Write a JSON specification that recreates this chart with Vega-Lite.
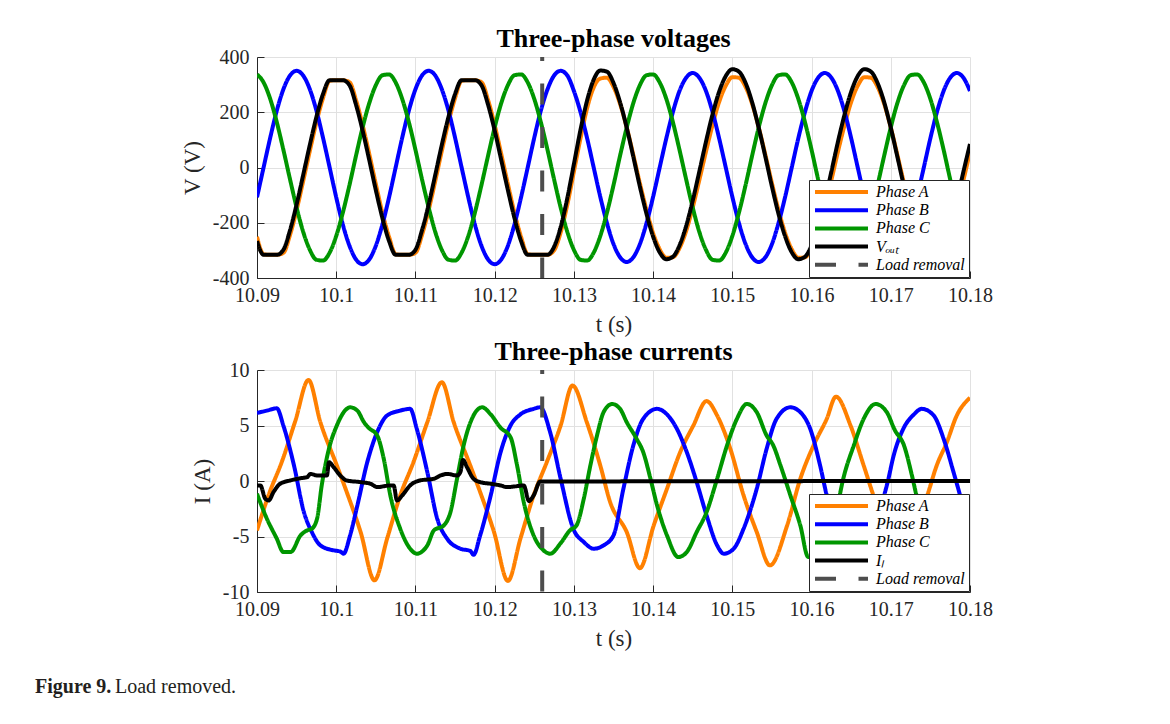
{
"$schema":"https://vega.github.io/schema/vega-lite/v6.json",
"background":"#ffffff",
"padding":{"left":35,"top":26,"right":10,"bottom":10},
"title":{"text":"Figure 9.","subtitle":"\u200b\u00a0\u00a0\u00a0\u00a0\u00a0\u00a0\u00a0\u00a0\u00a0\u00a0\u00a0\u00a0\u00a0\u00a0\u00a0\u00a0Load removed.","orient":"bottom","anchor":"start","frame":"group","dx":-222,"offset":26,"font":"Liberation Serif","fontSize":20,"fontWeight":"bold","color":"#231f20","subtitleFont":"Liberation Serif","subtitleFontSize":20,"subtitleFontWeight":"normal","subtitleColor":"#231f20","subtitlePadding":-20},
"datasets":{
"volt":[
{"t":10.09,"Phase A":-251,"Phase B":-108,"Phase C":337,"Vₒᵤₜ":-266},
{"t":10.09083,"Phase A":-314,"Phase B":0,"Phase C":308,"Vₒᵤₜ":-316},
{"t":10.09167,"Phase A":-316,"Phase B":108,"Phase C":248,"Vₒᵤₜ":-316},
{"t":10.0925,"Phase A":-316,"Phase B":206,"Phase C":164,"Vₒᵤₜ":-316},
{"t":10.09333,"Phase A":-309,"Phase B":283,"Phase C":64,"Vₒᵤₜ":-298},
{"t":10.09417,"Phase A":-244,"Phase B":333,"Phase C":-43,"Vₒᵤₜ":-227},
{"t":10.095,"Phase A":-154,"Phase B":350,"Phase C":-145,"Vₒᵤₜ":-134},
{"t":10.09583,"Phase A":-49,"Phase B":333,"Phase C":-233,"Vₒᵤₜ":-27},
{"t":10.09667,"Phase A":60,"Phase B":283,"Phase C":-298,"Vₒᵤₜ":82},
{"t":10.0975,"Phase A":164,"Phase B":206,"Phase C":-334,"Vₒᵤₜ":183},
{"t":10.09833,"Phase A":251,"Phase B":108,"Phase C":-337,"Vₒᵤₜ":266},
{"t":10.09917,"Phase A":314,"Phase B":0,"Phase C":-308,"Vₒᵤₜ":316},
{"t":10.1,"Phase A":316,"Phase B":-108,"Phase C":-248,"Vₒᵤₜ":316},
{"t":10.10083,"Phase A":316,"Phase B":-206,"Phase C":-164,"Vₒᵤₜ":316},
{"t":10.10167,"Phase A":309,"Phase B":-283,"Phase C":-64,"Vₒᵤₜ":298},
{"t":10.1025,"Phase A":244,"Phase B":-333,"Phase C":43,"Vₒᵤₜ":227},
{"t":10.10333,"Phase A":154,"Phase B":-350,"Phase C":145,"Vₒᵤₜ":134},
{"t":10.10417,"Phase A":49,"Phase B":-333,"Phase C":233,"Vₒᵤₜ":27},
{"t":10.105,"Phase A":-60,"Phase B":-283,"Phase C":298,"Vₒᵤₜ":-82},
{"t":10.10583,"Phase A":-164,"Phase B":-206,"Phase C":334,"Vₒᵤₜ":-183},
{"t":10.10667,"Phase A":-251,"Phase B":-108,"Phase C":337,"Vₒᵤₜ":-266},
{"t":10.1075,"Phase A":-314,"Phase B":0,"Phase C":308,"Vₒᵤₜ":-316},
{"t":10.10833,"Phase A":-316,"Phase B":108,"Phase C":248,"Vₒᵤₜ":-316},
{"t":10.10917,"Phase A":-316,"Phase B":206,"Phase C":164,"Vₒᵤₜ":-316},
{"t":10.11,"Phase A":-309,"Phase B":283,"Phase C":64,"Vₒᵤₜ":-298},
{"t":10.11083,"Phase A":-244,"Phase B":333,"Phase C":-43,"Vₒᵤₜ":-227},
{"t":10.11167,"Phase A":-154,"Phase B":350,"Phase C":-145,"Vₒᵤₜ":-134},
{"t":10.1125,"Phase A":-49,"Phase B":333,"Phase C":-233,"Vₒᵤₜ":-27},
{"t":10.11333,"Phase A":60,"Phase B":283,"Phase C":-298,"Vₒᵤₜ":82},
{"t":10.11417,"Phase A":164,"Phase B":206,"Phase C":-334,"Vₒᵤₜ":183},
{"t":10.115,"Phase A":251,"Phase B":108,"Phase C":-337,"Vₒᵤₜ":266},
{"t":10.11583,"Phase A":314,"Phase B":0,"Phase C":-308,"Vₒᵤₜ":316},
{"t":10.11667,"Phase A":316,"Phase B":-108,"Phase C":-248,"Vₒᵤₜ":316},
{"t":10.1175,"Phase A":316,"Phase B":-206,"Phase C":-164,"Vₒᵤₜ":316},
{"t":10.11833,"Phase A":309,"Phase B":-283,"Phase C":-64,"Vₒᵤₜ":298},
{"t":10.11917,"Phase A":244,"Phase B":-333,"Phase C":43,"Vₒᵤₜ":227},
{"t":10.12,"Phase A":154,"Phase B":-350,"Phase C":145,"Vₒᵤₜ":134},
{"t":10.12083,"Phase A":49,"Phase B":-333,"Phase C":233,"Vₒᵤₜ":27},
{"t":10.12167,"Phase A":-60,"Phase B":-283,"Phase C":298,"Vₒᵤₜ":-82},
{"t":10.1225,"Phase A":-164,"Phase B":-206,"Phase C":334,"Vₒᵤₜ":-183},
{"t":10.12333,"Phase A":-251,"Phase B":-108,"Phase C":337,"Vₒᵤₜ":-266},
{"t":10.12417,"Phase A":-314,"Phase B":0,"Phase C":308,"Vₒᵤₜ":-316},
{"t":10.125,"Phase A":-316,"Phase B":108,"Phase C":248,"Vₒᵤₜ":-316},
{"t":10.12583,"Phase A":-316,"Phase B":206,"Phase C":164,"Vₒᵤₜ":-316},
{"t":10.12667,"Phase A":-316,"Phase B":283,"Phase C":64,"Vₒᵤₜ":-316},
{"t":10.1275,"Phase A":-300,"Phase B":333,"Phase C":-43,"Vₒᵤₜ":-287},
{"t":10.12833,"Phase A":-235,"Phase B":350,"Phase C":-145,"Vₒᵤₜ":-216},
{"t":10.12917,"Phase A":-135,"Phase B":333,"Phase C":-233,"Vₒᵤₜ":-111},
{"t":10.13,"Phase A":-15,"Phase B":277,"Phase C":-298,"Vₒᵤₜ":12},
{"t":10.13083,"Phase A":105,"Phase B":201,"Phase C":-334,"Vₒᵤₜ":136},
{"t":10.13167,"Phase A":215,"Phase B":106,"Phase C":-337,"Vₒᵤₜ":243},
{"t":10.1325,"Phase A":290,"Phase B":0,"Phase C":-308,"Vₒᵤₜ":318},
{"t":10.13333,"Phase A":322,"Phase B":-106,"Phase C":-248,"Vₒᵤₜ":351},
{"t":10.13417,"Phase A":325,"Phase B":-201,"Phase C":-164,"Vₒᵤₜ":347},
{"t":10.135,"Phase A":292,"Phase B":-277,"Phase C":-64,"Vₒᵤₜ":306},
{"t":10.13583,"Phase A":230,"Phase B":-325,"Phase C":43,"Vₒᵤₜ":236},
{"t":10.13667,"Phase A":145,"Phase B":-342,"Phase C":145,"Vₒᵤₜ":144},
{"t":10.1375,"Phase A":46,"Phase B":-325,"Phase C":233,"Vₒᵤₜ":39},
{"t":10.13833,"Phase A":-57,"Phase B":-277,"Phase C":298,"Vₒᵤₜ":-69},
{"t":10.13917,"Phase A":-154,"Phase B":-201,"Phase C":334,"Vₒᵤₜ":-168},
{"t":10.14,"Phase A":-237,"Phase B":-106,"Phase C":337,"Vₒᵤₜ":-250},
{"t":10.14083,"Phase A":-296,"Phase B":0,"Phase C":308,"Vₒᵤₜ":-307},
{"t":10.14167,"Phase A":-327,"Phase B":106,"Phase C":248,"Vₒᵤₜ":-332},
{"t":10.1425,"Phase A":-325,"Phase B":201,"Phase C":164,"Vₒᵤₜ":-323},
{"t":10.14333,"Phase A":-292,"Phase B":277,"Phase C":64,"Vₒᵤₜ":-282},
{"t":10.14417,"Phase A":-230,"Phase B":325,"Phase C":-43,"Vₒᵤₜ":-212},
{"t":10.145,"Phase A":-145,"Phase B":342,"Phase C":-145,"Vₒᵤₜ":-120},
{"t":10.14583,"Phase A":-46,"Phase B":325,"Phase C":-233,"Vₒᵤₜ":-15},
{"t":10.14667,"Phase A":57,"Phase B":277,"Phase C":-298,"Vₒᵤₜ":93},
{"t":10.1475,"Phase A":154,"Phase B":201,"Phase C":-334,"Vₒᵤₜ":192},
{"t":10.14833,"Phase A":237,"Phase B":106,"Phase C":-337,"Vₒᵤₜ":274},
{"t":10.14917,"Phase A":296,"Phase B":0,"Phase C":-308,"Vₒᵤₜ":331},
{"t":10.15,"Phase A":327,"Phase B":-106,"Phase C":-248,"Vₒᵤₜ":356},
{"t":10.15083,"Phase A":325,"Phase B":-201,"Phase C":-164,"Vₒᵤₜ":347},
{"t":10.15167,"Phase A":292,"Phase B":-277,"Phase C":-64,"Vₒᵤₜ":306},
{"t":10.1525,"Phase A":230,"Phase B":-325,"Phase C":43,"Vₒᵤₜ":236},
{"t":10.15333,"Phase A":145,"Phase B":-342,"Phase C":145,"Vₒᵤₜ":144},
{"t":10.15417,"Phase A":46,"Phase B":-325,"Phase C":233,"Vₒᵤₜ":39},
{"t":10.155,"Phase A":-57,"Phase B":-277,"Phase C":298,"Vₒᵤₜ":-69},
{"t":10.15583,"Phase A":-154,"Phase B":-201,"Phase C":334,"Vₒᵤₜ":-168},
{"t":10.15667,"Phase A":-237,"Phase B":-106,"Phase C":337,"Vₒᵤₜ":-250},
{"t":10.1575,"Phase A":-296,"Phase B":0,"Phase C":308,"Vₒᵤₜ":-307},
{"t":10.15833,"Phase A":-327,"Phase B":106,"Phase C":248,"Vₒᵤₜ":-332},
{"t":10.15917,"Phase A":-325,"Phase B":201,"Phase C":164,"Vₒᵤₜ":-323},
{"t":10.16,"Phase A":-292,"Phase B":277,"Phase C":64,"Vₒᵤₜ":-282},
{"t":10.16083,"Phase A":-230,"Phase B":325,"Phase C":-43,"Vₒᵤₜ":-212},
{"t":10.16167,"Phase A":-145,"Phase B":342,"Phase C":-145,"Vₒᵤₜ":-120},
{"t":10.1625,"Phase A":-46,"Phase B":325,"Phase C":-233,"Vₒᵤₜ":-15},
{"t":10.16333,"Phase A":57,"Phase B":277,"Phase C":-298,"Vₒᵤₜ":93},
{"t":10.16417,"Phase A":154,"Phase B":201,"Phase C":-334,"Vₒᵤₜ":192},
{"t":10.165,"Phase A":237,"Phase B":106,"Phase C":-337,"Vₒᵤₜ":274},
{"t":10.16583,"Phase A":296,"Phase B":0,"Phase C":-308,"Vₒᵤₜ":331},
{"t":10.16667,"Phase A":327,"Phase B":-106,"Phase C":-248,"Vₒᵤₜ":356},
{"t":10.1675,"Phase A":325,"Phase B":-201,"Phase C":-164,"Vₒᵤₜ":347},
{"t":10.16833,"Phase A":292,"Phase B":-277,"Phase C":-64,"Vₒᵤₜ":306},
{"t":10.16917,"Phase A":230,"Phase B":-325,"Phase C":43,"Vₒᵤₜ":236},
{"t":10.17,"Phase A":145,"Phase B":-342,"Phase C":145,"Vₒᵤₜ":144},
{"t":10.17083,"Phase A":46,"Phase B":-325,"Phase C":233,"Vₒᵤₜ":39},
{"t":10.17167,"Phase A":-57,"Phase B":-277,"Phase C":298,"Vₒᵤₜ":-69},
{"t":10.1725,"Phase A":-154,"Phase B":-201,"Phase C":334,"Vₒᵤₜ":-168},
{"t":10.17333,"Phase A":-237,"Phase B":-106,"Phase C":337,"Vₒᵤₜ":-250},
{"t":10.17417,"Phase A":-296,"Phase B":0,"Phase C":308,"Vₒᵤₜ":-307},
{"t":10.175,"Phase A":-327,"Phase B":106,"Phase C":248,"Vₒᵤₜ":-332},
{"t":10.17583,"Phase A":-325,"Phase B":201,"Phase C":164,"Vₒᵤₜ":-323},
{"t":10.17667,"Phase A":-292,"Phase B":277,"Phase C":64,"Vₒᵤₜ":-282},
{"t":10.1775,"Phase A":-230,"Phase B":325,"Phase C":-43,"Vₒᵤₜ":-212},
{"t":10.17833,"Phase A":-145,"Phase B":342,"Phase C":-145,"Vₒᵤₜ":-120},
{"t":10.17917,"Phase A":-46,"Phase B":325,"Phase C":-233,"Vₒᵤₜ":-15},
{"t":10.18,"Phase A":57,"Phase B":277,"Phase C":-298,"Vₒᵤₜ":85}
],
"curr":[
{"t":10.09,"series":"Phase A","v":-4.45},
{"t":10.0915,"series":"Phase A","v":-1.2},
{"t":10.09317,"series":"Phase A","v":1.8},
{"t":10.09483,"series":"Phase A","v":5.4},
{"t":10.0965,"series":"Phase A","v":9.1},
{"t":10.098,"series":"Phase A","v":5.3},
{"t":10.10008,"series":"Phase A","v":1.4},
{"t":10.10133,"series":"Phase A","v":-1.0},
{"t":10.10308,"series":"Phase A","v":-4.6},
{"t":10.10483,"series":"Phase A","v":-8.95},
{"t":10.10642,"series":"Phase A","v":-5.2},
{"t":10.10808,"series":"Phase A","v":-1.3},
{"t":10.10975,"series":"Phase A","v":1.7},
{"t":10.1115,"series":"Phase A","v":5.3},
{"t":10.11333,"series":"Phase A","v":8.9},
{"t":10.11483,"series":"Phase A","v":5.3},
{"t":10.11692,"series":"Phase A","v":1.4},
{"t":10.11817,"series":"Phase A","v":-1.0},
{"t":10.11992,"series":"Phase A","v":-4.6},
{"t":10.12167,"series":"Phase A","v":-9.0},
{"t":10.12325,"series":"Phase A","v":-5.2},
{"t":10.12492,"series":"Phase A","v":-1.3},
{"t":10.12658,"series":"Phase A","v":1.7},
{"t":10.12833,"series":"Phase A","v":5.0},
{"t":10.12983,"series":"Phase A","v":8.6},
{"t":10.13163,"series":"Phase A","v":5.3},
{"t":10.13333,"series":"Phase A","v":1.4},
{"t":10.13458,"series":"Phase A","v":-1.9},
{"t":10.13667,"series":"Phase A","v":-4.6},
{"t":10.13833,"series":"Phase A","v":-7.85},
{"t":10.14008,"series":"Phase A","v":-4.0},
{"t":10.14175,"series":"Phase A","v":-0.7},
{"t":10.14342,"series":"Phase A","v":2.6},
{"t":10.14508,"series":"Phase A","v":5.0},
{"t":10.14675,"series":"Phase A","v":7.2},
{"t":10.14808,"series":"Phase A","v":5.9},
{"t":10.14975,"series":"Phase A","v":2.9},
{"t":10.15142,"series":"Phase A","v":-1.3},
{"t":10.15308,"series":"Phase A","v":-4.6},
{"t":10.15475,"series":"Phase A","v":-7.6},
{"t":10.15692,"series":"Phase A","v":-4.0},
{"t":10.15858,"series":"Phase A","v":0.2},
{"t":10.16025,"series":"Phase A","v":3.2},
{"t":10.16192,"series":"Phase A","v":5.6},
{"t":10.16308,"series":"Phase A","v":7.6},
{"t":10.16492,"series":"Phase A","v":5.0},
{"t":10.16658,"series":"Phase A","v":1.4},
{"t":10.16825,"series":"Phase A","v":-2.2},
{"t":10.16992,"series":"Phase A","v":-5.0},
{"t":10.17142,"series":"Phase A","v":-7.5},
{"t":10.17308,"series":"Phase A","v":-4.2},
{"t":10.17454,"series":"Phase A","v":-1.45},
{"t":10.1758,"series":"Phase A","v":1.4},
{"t":10.17708,"series":"Phase A","v":3.5},
{"t":10.17833,"series":"Phase A","v":5.9},
{"t":10.18,"series":"Phase A","v":7.5},
{"t":10.09,"series":"Phase B","v":6.13},
{"t":10.09125,"series":"Phase B","v":6.34},
{"t":10.0925,"series":"Phase B","v":6.55},
{"t":10.09333,"series":"Phase B","v":4.99},
{"t":10.09467,"series":"Phase B","v":1.39},
{"t":10.09592,"series":"Phase B","v":-2.8},
{"t":10.09692,"series":"Phase B","v":-4.6},
{"t":10.098,"series":"Phase B","v":-5.8},
{"t":10.09967,"series":"Phase B","v":-6.25},
{"t":10.1005,"series":"Phase B","v":-6.35},
{"t":10.10092,"series":"Phase B","v":-6.55},
{"t":10.10175,"series":"Phase B","v":-4.9},
{"t":10.10267,"series":"Phase B","v":-2.2},
{"t":10.10392,"series":"Phase B","v":1.7},
{"t":10.10517,"series":"Phase B","v":4.4},
{"t":10.10642,"series":"Phase B","v":5.9},
{"t":10.10808,"series":"Phase B","v":6.34},
{"t":10.10933,"series":"Phase B","v":6.5},
{"t":10.11017,"series":"Phase B","v":4.7},
{"t":10.1115,"series":"Phase B","v":0.8},
{"t":10.11275,"series":"Phase B","v":-3.4},
{"t":10.114,"series":"Phase B","v":-5.2},
{"t":10.11567,"series":"Phase B","v":-6.1},
{"t":10.11692,"series":"Phase B","v":-6.3},
{"t":10.11733,"series":"Phase B","v":-6.65},
{"t":10.11817,"series":"Phase B","v":-4.9},
{"t":10.1195,"series":"Phase B","v":-1.3},
{"t":10.12075,"series":"Phase B","v":2.6},
{"t":10.122,"series":"Phase B","v":5.0},
{"t":10.12325,"series":"Phase B","v":6.0},
{"t":10.12492,"series":"Phase B","v":6.5},
{"t":10.12575,"series":"Phase B","v":6.64},
{"t":10.127,"series":"Phase B","v":4.4},
{"t":10.12833,"series":"Phase B","v":0.2},
{"t":10.12992,"series":"Phase B","v":-4.3},
{"t":10.13125,"series":"Phase B","v":-5.5},
{"t":10.1325,"series":"Phase B","v":-6.1},
{"t":10.13375,"series":"Phase B","v":-5.8},
{"t":10.135,"series":"Phase B","v":-4.9},
{"t":10.13625,"series":"Phase B","v":-0.7},
{"t":10.1375,"series":"Phase B","v":3.2},
{"t":10.13875,"series":"Phase B","v":5.6},
{"t":10.1405,"series":"Phase B","v":6.5},
{"t":10.14175,"series":"Phase B","v":6.0},
{"t":10.143,"series":"Phase B","v":4.7},
{"t":10.14425,"series":"Phase B","v":2.6},
{"t":10.1455,"series":"Phase B","v":-0.1},
{"t":10.14675,"series":"Phase B","v":-3.1},
{"t":10.14808,"series":"Phase B","v":-5.8},
{"t":10.14892,"series":"Phase B","v":-6.55},
{"t":10.15017,"series":"Phase B","v":-6.1},
{"t":10.15142,"series":"Phase B","v":-4.3},
{"t":10.15308,"series":"Phase B","v":-0.7},
{"t":10.15433,"series":"Phase B","v":2.9},
{"t":10.15558,"series":"Phase B","v":5.6},
{"t":10.15733,"series":"Phase B","v":6.64},
{"t":10.15858,"series":"Phase B","v":6.2},
{"t":10.15983,"series":"Phase B","v":4.7},
{"t":10.16108,"series":"Phase B","v":1.4},
{"t":10.16192,"series":"Phase B","v":-1.3},
{"t":10.163,"series":"Phase B","v":-3.8},
{"t":10.16417,"series":"Phase B","v":-5.7},
{"t":10.16525,"series":"Phase B","v":-6.55},
{"t":10.1665,"series":"Phase B","v":-6.1},
{"t":10.16775,"series":"Phase B","v":-4.3},
{"t":10.16967,"series":"Phase B","v":0.1},
{"t":10.17033,"series":"Phase B","v":2.2},
{"t":10.17158,"series":"Phase B","v":4.7},
{"t":10.17292,"series":"Phase B","v":6.0},
{"t":10.17392,"series":"Phase B","v":6.5},
{"t":10.17542,"series":"Phase B","v":5.9},
{"t":10.17667,"series":"Phase B","v":3.8},
{"t":10.17792,"series":"Phase B","v":0.8},
{"t":10.17875,"series":"Phase B","v":-1.3},
{"t":10.17983,"series":"Phase B","v":-4.3},
{"t":10.18,"series":"Phase B","v":-4.6},
{"t":10.09,"series":"Phase C","v":-1.15},
{"t":10.09125,"series":"Phase C","v":-3.4},
{"t":10.0925,"series":"Phase C","v":-5.2},
{"t":10.09333,"series":"Phase C","v":-6.4},
{"t":10.09425,"series":"Phase C","v":-6.4},
{"t":10.0955,"series":"Phase C","v":-4.9},
{"t":10.09633,"series":"Phase C","v":-4.45},
{"t":10.09692,"series":"Phase C","v":-4.3},
{"t":10.09758,"series":"Phase C","v":-3.4},
{"t":10.09817,"series":"Phase C","v":-0.4},
{"t":10.09908,"series":"Phase C","v":2.9},
{"t":10.10008,"series":"Phase C","v":5.0},
{"t":10.10133,"series":"Phase C","v":6.5},
{"t":10.10175,"series":"Phase C","v":6.64},
{"t":10.10267,"series":"Phase C","v":6.34},
{"t":10.1035,"series":"Phase C","v":5.3},
{"t":10.10408,"series":"Phase C","v":4.8},
{"t":10.10517,"series":"Phase C","v":4.1},
{"t":10.106,"series":"Phase C","v":2.0},
{"t":10.10683,"series":"Phase C","v":-1.3},
{"t":10.10808,"series":"Phase C","v":-4.3},
{"t":10.10933,"series":"Phase C","v":-6.1},
{"t":10.11017,"series":"Phase C","v":-6.55},
{"t":10.1115,"series":"Phase C","v":-5.8},
{"t":10.11233,"series":"Phase C","v":-4.45},
{"t":10.11358,"series":"Phase C","v":-4.0},
{"t":10.11442,"series":"Phase C","v":-2.8},
{"t":10.11525,"series":"Phase C","v":0.2},
{"t":10.11608,"series":"Phase C","v":3.2},
{"t":10.11733,"series":"Phase C","v":5.9},
{"t":10.11842,"series":"Phase C","v":6.64},
{"t":10.1195,"series":"Phase C","v":6.0},
{"t":10.12075,"series":"Phase C","v":4.8},
{"t":10.122,"series":"Phase C","v":3.95},
{"t":10.12283,"series":"Phase C","v":1.4},
{"t":10.12367,"series":"Phase C","v":-1.9},
{"t":10.12492,"series":"Phase C","v":-4.9},
{"t":10.12617,"series":"Phase C","v":-6.25},
{"t":10.127,"series":"Phase C","v":-6.55},
{"t":10.12833,"series":"Phase C","v":-5.6},
{"t":10.1295,"series":"Phase C","v":-4.45},
{"t":10.13033,"series":"Phase C","v":-4.0},
{"t":10.13125,"series":"Phase C","v":-1.6},
{"t":10.13208,"series":"Phase C","v":1.4},
{"t":10.13292,"series":"Phase C","v":4.1},
{"t":10.13375,"series":"Phase C","v":6.2},
{"t":10.13483,"series":"Phase C","v":6.94},
{"t":10.13583,"series":"Phase C","v":6.5},
{"t":10.13667,"series":"Phase C","v":5.3},
{"t":10.13792,"series":"Phase C","v":3.8},
{"t":10.13875,"series":"Phase C","v":2.6},
{"t":10.13967,"series":"Phase C","v":0.2},
{"t":10.1405,"series":"Phase C","v":-2.2},
{"t":10.14175,"series":"Phase C","v":-4.9},
{"t":10.14317,"series":"Phase C","v":-6.85},
{"t":10.14425,"series":"Phase C","v":-6.4},
{"t":10.1455,"series":"Phase C","v":-4.6},
{"t":10.14675,"series":"Phase C","v":-2.8},
{"t":10.14808,"series":"Phase C","v":0.2},
{"t":10.14933,"series":"Phase C","v":3.2},
{"t":10.15058,"series":"Phase C","v":5.6},
{"t":10.15183,"series":"Phase C","v":6.94},
{"t":10.15308,"series":"Phase C","v":6.2},
{"t":10.15433,"series":"Phase C","v":4.1},
{"t":10.15517,"series":"Phase C","v":3.2},
{"t":10.15608,"series":"Phase C","v":1.4},
{"t":10.15733,"series":"Phase C","v":-1.3},
{"t":10.15858,"series":"Phase C","v":-4.0},
{"t":10.15958,"series":"Phase C","v":-6.85},
{"t":10.16083,"series":"Phase C","v":-6.3},
{"t":10.16208,"series":"Phase C","v":-4.6},
{"t":10.16333,"series":"Phase C","v":-2.0},
{"t":10.164,"series":"Phase C","v":0.2},
{"t":10.16533,"series":"Phase C","v":3.2},
{"t":10.16658,"series":"Phase C","v":5.6},
{"t":10.16808,"series":"Phase C","v":6.94},
{"t":10.1695,"series":"Phase C","v":6.2},
{"t":10.1705,"series":"Phase C","v":4.6},
{"t":10.17167,"series":"Phase C","v":3.2},
{"t":10.17267,"series":"Phase C","v":0.5},
{"t":10.17325,"series":"Phase C","v":-1.3},
{"t":10.17433,"series":"Phase C","v":-3.5},
{"t":10.17517,"series":"Phase C","v":-4.9},
{"t":10.17642,"series":"Phase C","v":-6.85},
{"t":10.17758,"series":"Phase C","v":-6.4},
{"t":10.17883,"series":"Phase C","v":-4.6},
{"t":10.18,"series":"Phase C","v":-3.1},
{"t":10.09,"series":"Iₗ","v":-0.4},
{"t":10.09042,"series":"Iₗ","v":-0.4},
{"t":10.09105,"series":"Iₗ","v":-1.6},
{"t":10.09148,"series":"Iₗ","v":-1.75},
{"t":10.09208,"series":"Iₗ","v":-1.0},
{"t":10.09292,"series":"Iₗ","v":-0.25},
{"t":10.09421,"series":"Iₗ","v":0.05},
{"t":10.0955,"series":"Iₗ","v":0.25},
{"t":10.09633,"series":"Iₗ","v":0.35},
{"t":10.09675,"series":"Iₗ","v":0.64},
{"t":10.09758,"series":"Iₗ","v":0.5},
{"t":10.09883,"series":"Iₗ","v":0.5},
{"t":10.09908,"series":"Iₗ","v":1.7},
{"t":10.09967,"series":"Iₗ","v":1.25},
{"t":10.1005,"series":"Iₗ","v":0.5},
{"t":10.10133,"series":"Iₗ","v":0.05},
{"t":10.10308,"series":"Iₗ","v":-0.1},
{"t":10.10433,"series":"Iₗ","v":-0.25},
{"t":10.10517,"series":"Iₗ","v":-0.55},
{"t":10.10683,"series":"Iₗ","v":-0.4},
{"t":10.10725,"series":"Iₗ","v":-0.4},
{"t":10.10767,"series":"Iₗ","v":-1.75},
{"t":10.10833,"series":"Iₗ","v":-1.3},
{"t":10.10933,"series":"Iₗ","v":-0.4},
{"t":10.11058,"series":"Iₗ","v":0.05},
{"t":10.11233,"series":"Iₗ","v":0.2},
{"t":10.11317,"series":"Iₗ","v":0.5},
{"t":10.114,"series":"Iₗ","v":0.64},
{"t":10.11525,"series":"Iₗ","v":0.5},
{"t":10.11567,"series":"Iₗ","v":0.8},
{"t":10.116,"series":"Iₗ","v":1.9},
{"t":10.1165,"series":"Iₗ","v":1.25},
{"t":10.11733,"series":"Iₗ","v":0.2},
{"t":10.11817,"series":"Iₗ","v":-0.1},
{"t":10.1195,"series":"Iₗ","v":-0.25},
{"t":10.12075,"series":"Iₗ","v":-0.4},
{"t":10.12158,"series":"Iₗ","v":-0.55},
{"t":10.12242,"series":"Iₗ","v":-0.5},
{"t":10.12367,"series":"Iₗ","v":-0.4},
{"t":10.12433,"series":"Iₗ","v":-1.8},
{"t":10.12492,"series":"Iₗ","v":-1.3},
{"t":10.12575,"series":"Iₗ","v":-0.05},
{"t":10.18,"series":"Iₗ","v":0}
]
},
"spacing":92,
"bounds":"flush",
"vconcat":[
{
"width":713,"height":221,
"title":{"text":"Three-phase voltages","baseline":"alphabetic","offset":-26},
"layer":[
{"data":{"name":"volt"},
"transform":[{"fold":["Phase A","Phase B","Phase C","Vₒᵤₜ"],"as":["series","v"]}],
"mark":{"type":"line","strokeWidth":4,"clip":true,"interpolate":"monotone"},
"encoding":{
"x":{"field":"t","type":"quantitative","title":"t (s)","scale":{"domain":[10.09,10.18],"nice":false,"zero":false},"axis":{"values":[10.09,10.1,10.11,10.12,10.13,10.14,10.15,10.16,10.17,10.18],"labelExpr":"'' + datum.value"}},
"y":{"field":"v","type":"quantitative","title":"V (V)","scale":{"domain":[-400,400],"nice":false},"axis":{"values":[-400,-200,0,200,400],"labelExpr":"'' + datum.value"}},
"color":{"field":"series","type":"nominal","scale":{"domain":["Phase A","Phase B","Phase C","Vₒᵤₜ","Load removal"],"range":["#ff8000","#0000ff","#009600","#000000","#4d4d4d"]},"legend":{"title":null}},
"strokeDash":{"field":"series","type":"nominal","scale":{"domain":["Phase A","Phase B","Phase C","Vₒᵤₜ","Load removal"],"range":[[1,0],[1,0],[1,0],[1,0],[21,22.5]]},"legend":{"title":null}}
}},
{"data":{"values":[{"t":10.126,"series":"Load removal"}]},
"mark":{"type":"rule","strokeWidth":4,"strokeDashOffset":17},
"encoding":{
"x":{"field":"t","type":"quantitative"},
"color":{"field":"series","type":"nominal"},
"strokeDash":{"field":"series","type":"nominal"}
}}
]
},
{
"width":713,"height":222,
"title":{"text":"Three-phase currents","baseline":"alphabetic","offset":-26},
"layer":[
{"data":{"name":"curr"},
"mark":{"type":"line","clip":true,"interpolate":"monotone"},
"encoding":{
"x":{"field":"t","type":"quantitative","title":"t (s)","scale":{"domain":[10.09,10.18],"nice":false,"zero":false},"axis":{"values":[10.09,10.1,10.11,10.12,10.13,10.14,10.15,10.16,10.17,10.18],"labelExpr":"'' + datum.value"}},
"y":{"field":"v","type":"quantitative","title":"I (A)","scale":{"domain":[-10,10],"nice":false},"axis":{"values":[-10,-5,0,5,10],"labelExpr":"'' + datum.value"}},
"color":{"field":"series","type":"nominal","scale":{"domain":["Phase A","Phase B","Phase C","Iₗ","Load removal"],"range":["#ff8000","#0000ff","#009600","#000000","#4d4d4d"]},"legend":{"title":null}},
"strokeDash":{"field":"series","type":"nominal","scale":{"domain":["Phase A","Phase B","Phase C","Iₗ","Load removal"],"range":[[1,0],[1,0],[1,0],[1,0],[21,22.5]]},"legend":{"title":null}},
"strokeWidth":{"field":"series","type":"nominal","scale":{"domain":["Phase A","Phase B","Phase C","Iₗ","Load removal"],"range":[4,4,4,3,4]},"legend":null}
}},
{"data":{"values":[{"t":10.126,"series":"Load removal"}]},
"mark":{"type":"rule","strokeWidth":4,"strokeDashOffset":17},
"encoding":{
"x":{"field":"t","type":"quantitative"},
"color":{"field":"series","type":"nominal"},
"strokeDash":{"field":"series","type":"nominal"}
}}
]
}
],
"resolve":{"scale":{"color":"independent","strokeDash":"independent"},"legend":{"color":"independent","strokeDash":"independent"}},
"config":{
"view":{"stroke":null},
"font":"Liberation Serif",
"title":{"font":"Liberation Serif","fontSize":26,"fontWeight":"bold","color":"#000000","anchor":"middle"},
"axis":{"labelFont":"Liberation Serif","labelFontSize":20,"labelColor":"#262626","titleFont":"Liberation Serif","titleFontSize":23,"titleFontWeight":"normal","titleColor":"#262626","domainColor":"#262626","domainWidth":1,"tickColor":"#262626","tickWidth":1,"tickSize":-7,"gridColor":"#e1e1e1","gridWidth":1,"labelFlush":false,"labelOverlap":false},
"axisX":{"labelPadding":14.5,"titlePadding":8},
"axisY":{"labelPadding":15,"titlePadding":8},
"legend":{"orient":"bottom-right","offset":1,"fillColor":"#ffffff","strokeColor":"#262626","padding":4,"symbolType":"stroke","symbolSize":2809,"symbolStrokeWidth":4,"labelFont":"Liberation Serif","labelFontStyle":"italic","labelFontSize":16,"labelColor":"#000000","rowPadding":2.2,"labelOffset":6,"clipHeight":16,"cornerRadius":0}
}
}
